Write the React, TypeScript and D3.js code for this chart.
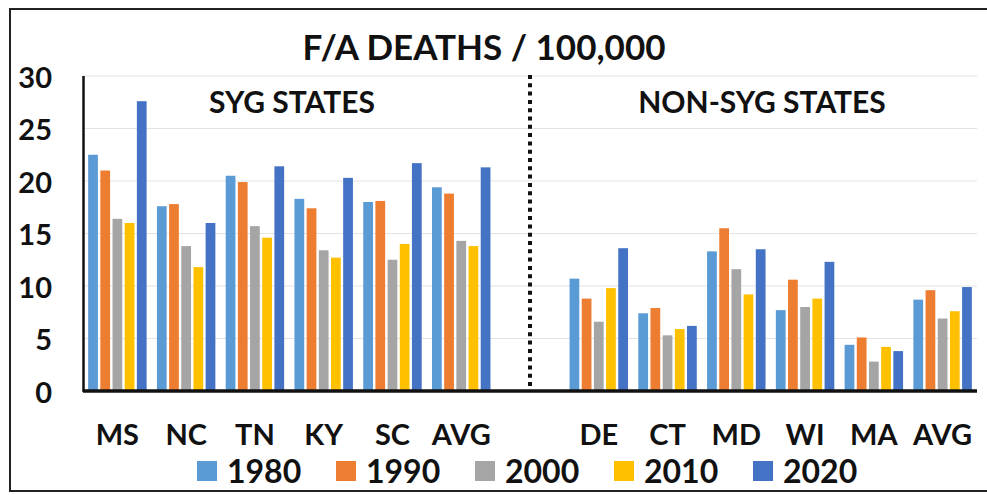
import React from "react";
import * as d3 from "d3";

const years = ["1980", "1990", "2000", "2010", "2020"];
const colors = ["#5B9BD5", "#ED7D31", "#A5A5A5", "#FFC000", "#4472C4"];
const categoryKeys = ["MS", "NC", "TN", "KY", "SC", "SYG_AVG", "GAP", "DE", "CT", "MD", "WI", "MA", "NON_AVG"];
const categoryLabels = ["MS", "NC", "TN", "KY", "SC", "AVG", "", "DE", "CT", "MD", "WI", "MA", "AVG"];
const values1980 = [22.5, 17.6, 20.5, 18.3, 18.0, 19.4, null, 10.7, 7.4, 13.3, 7.7, 4.4, 8.7];
const values1990 = [21.0, 17.8, 19.9, 17.4, 18.1, 18.8, null, 8.8, 7.9, 15.5, 10.6, 5.1, 9.6];
const values2000 = [16.4, 13.8, 15.7, 13.4, 12.5, 14.3, null, 6.6, 5.3, 11.6, 8.0, 2.8, 6.9];
const values2010 = [16.0, 11.8, 14.6, 12.7, 14.0, 13.8, null, 9.8, 5.9, 9.2, 8.8, 4.2, 7.6];
const values2020 = [27.6, 16.0, 21.4, 20.3, 21.7, 21.3, null, 13.6, 6.2, 13.5, 12.3, 3.8, 9.9];
const seriesValues = [values1980, values1990, values2000, values2010, values2020];
const yTicks = [0, 5, 10, 15, 20, 25, 30];
const title = "F/A DEATHS / 100,000";
const groupTitles = ["SYG STATES", "NON-SYG STATES"];

const W = 987;
const H = 495;
const FONT = "Lato, 'Open Sans', sans-serif";

export default function App() {
  const x0 = d3
    .scaleBand<string>()
    .domain(categoryKeys)
    .range([83, 977])
    .paddingInner(0.15)
    .paddingOuter(0.075);
  const x1 = d3.scaleBand<string>().domain(years).range([0, x0.bandwidth()]).paddingInner(0.2);
  const y = d3.scaleLinear().domain([0, 30]).range([391, 76]);
  const gapX = (x0("GAP") as number) + x0.bandwidth() / 2;

  return (
    <svg
      width={W}
      height={H}
      style={{ position: "absolute", left: 0, top: 0, background: "#fff" }}
      fontFamily={FONT}
      fontWeight={700}
    >
      <rect x={0} y={0} width={W} height={H} fill="#fff" />
      <rect x={10} y={9} width={W + 20} height={482} fill="none" stroke="#222" strokeWidth={2} />
      {/* gridlines */}
      {yTicks.filter((t) => t > 0).map((t) => (
        <line key={t} x1={83} x2={977} y1={y(t)} y2={y(t)} stroke="#E3E3E3" strokeWidth={1.2} />
      ))}
      {/* bars */}
      {categoryKeys.map((c, ci) => (
        <g key={c} transform={`translate(${x0(c)},0)`}>
          {years.map((yr, si) => {
            const v = seriesValues[si][ci];
            if (v == null) return null;
            return (
              <rect
                key={yr}
                x={x1(yr)}
                y={y(v)}
                width={x1.bandwidth()}
                height={y(0) - y(v)}
                fill={colors[si]}
              />
            );
          })}
        </g>
      ))}
      {/* y axis */}
      <line x1={83.5} x2={83.5} y1={76} y2={392} stroke="#111" strokeWidth={2.5} />
      {yTicks.map((t) => (
        <text key={t} x={52} y={y(t)} textAnchor="end" dominantBaseline="central" fontSize={29} fill="#111">
          {t}
        </text>
      ))}
      {/* dotted separator */}
      <line x1={gapX} x2={gapX} y1={75} y2={390} stroke="#111" strokeWidth={4} strokeDasharray="4 4.3" />
      {/* x axis */}
      <line x1={83} x2={977} y1={391} y2={391} stroke="#111" strokeWidth={3.5} />
      {categoryKeys.map((c, ci) => (
        <text
          key={c}
          x={(x0(c) as number) + x0.bandwidth() / 2}
          y={445}
          textAnchor="middle"
          fontSize={29}
          fill="#111"
        >
          {categoryLabels[ci]}
        </text>
      ))}
      {/* titles */}
      <text x={484} y={60} textAnchor="middle" fontSize={35} fill="#111">
        {title}
      </text>
      <text x={292} y={113} textAnchor="middle" fontSize={30} fill="#111">
        {groupTitles[0]}
      </text>
      <text x={762} y={113} textAnchor="middle" fontSize={30} fill="#111">
        {groupTitles[1]}
      </text>
      {/* legend */}
      {years.map((yr, i) => {
        const lx = 197 + i * 139;
        return (
          <g key={yr}>
            <rect x={lx} y={461} width={20} height={20} fill={colors[i]} />
            <text x={lx + 30} y={483} fontSize={32} fill="#111">
              {yr}
            </text>
          </g>
        );
      })}
    </svg>
  );
}
